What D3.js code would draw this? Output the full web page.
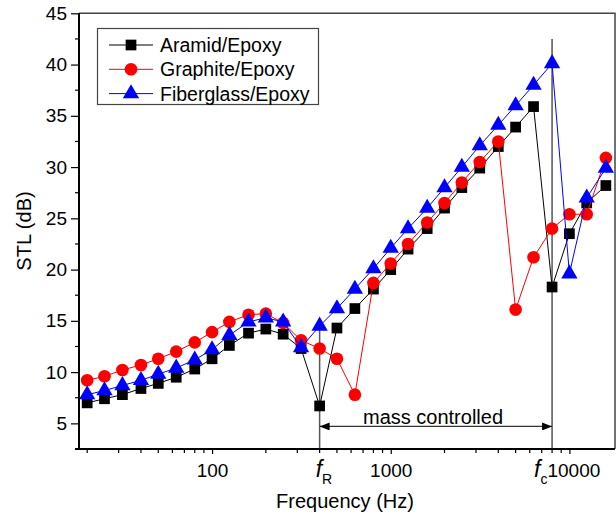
<!DOCTYPE html>
<html>
<head>
<meta charset="utf-8">
<script src="https://cdn.jsdelivr.net/npm/d3@7"></script>
<style>
  body { margin: 0; background: #fff; }
  svg { font-family: Arial, "Liberation Sans", sans-serif; }
</style>
</head>
<body>
<svg id="chart" width="616" height="519"></svg>
<script>
// 1/3 octave band centre frequencies (Hz)
var freqs = [20, 25, 31.5, 40, 50, 63, 80, 100, 125, 160, 200, 250, 315, 400, 500,
  630, 800, 1000, 1250, 1600, 2000, 2500, 3150, 4000, 5000, 6300, 8000, 10000, 12500, 16000];

var aramid = [7.0, 7.4, 7.8, 8.4, 8.9, 9.5, 10.3, 11.3, 12.6, 13.8, 14.2, 13.7, 12.3, 6.7, 14.3,
  16.2, 18.1, 20.0, 22.0, 24.0, 26.0, 28.0, 29.9, 32.0, 33.9, 35.9, 18.3, 23.5, 26.5, 28.2];
var graphite = [9.2, 9.6, 10.2, 10.7, 11.3, 12.0, 12.9, 13.9, 14.9, 15.6, 15.7, 14.8, 13.1, 12.3, 11.3,
  7.8, 18.7, 20.6, 22.5, 24.6, 26.5, 28.5, 30.5, 32.5, 16.1, 21.2, 24.0, 25.4, 25.4, 30.9];
var fiberglass = [7.8, 8.2, 8.7, 9.2, 9.8, 10.4, 11.2, 12.2, 13.6, 14.9, 15.3, 14.9, 12.4, 14.5, 16.2,
  18.1, 20.1, 22.1, 24.0, 26.0, 28.0, 30.0, 32.1, 34.1, 36.0, 38.0, 40.1, 19.6, 27.0, 29.9];

var seriesNames = ["Aramid/Epoxy", "Graphite/Epoxy", "Fiberglass/Epoxy"];
var yTicks = [5, 10, 15, 20, 25, 30, 35, 40, 45];
var xMajorTicks = [100, 1000, 10000];
var fR = 400, fC = 8000;

var svg = d3.select("#chart");
var plotLeft = 79, plotRight = 615, plotTop = 13.3, plotBottom = 449;

var x = d3.scaleLog().domain([18, 18000]).range([plotLeft, plotRight]);
var y = d3.scaleLinear().domain([2.5, 45]).range([plotBottom, plotTop]);

var series = [
  {name: seriesNames[0], values: aramid, color: "#000000", shape: d3.symbolSquare, size: 115},
  {name: seriesNames[1], values: graphite, color: "#ff0000", shape: d3.symbolCircle, size: 125},
  {name: seriesNames[2], values: fiberglass, color: "#0000ff", shape: d3.symbolTriangle, size: 115}
];

// frame (top / right)
svg.append("path")
  .attr("d", "M" + plotLeft + "," + plotTop + "H" + plotRight + "V" + plotBottom)
  .attr("fill", "none").attr("stroke", "#444").attr("stroke-width", 1.5);

// vertical markers at fR and fc
svg.append("line")
  .attr("x1", x(fR)).attr("x2", x(fR)).attr("y1", y(14.5)).attr("y2", plotBottom)
  .attr("stroke", "#555").attr("stroke-width", 1.5);
svg.append("line")
  .attr("x1", x(fC)).attr("x2", x(fC)).attr("y1", y(42.5)).attr("y2", plotBottom)
  .attr("stroke", "#555").attr("stroke-width", 1.5);

// curves
var line = d3.line()
  .x(function (d, i) { return x(freqs[i]); })
  .y(function (d) { return y(d); });

series.forEach(function (s) {
  svg.append("path")
    .datum(s.values)
    .attr("d", line)
    .attr("fill", "none")
    .attr("stroke", s.color)
    .attr("stroke-width", 1);
  svg.append("g").selectAll("path")
    .data(s.values)
    .join("path")
    .attr("transform", function (d, i) { return "translate(" + x(freqs[i]) + "," + y(d) + ")"; })
    .attr("d", d3.symbol().type(s.shape).size(s.size))
    .attr("fill", s.color);
});

// mass controlled arrow
var defs = svg.append("defs");
["start", "end"].forEach(function (k) {
  defs.append("marker")
    .attr("id", "arrow-" + k)
    .attr("viewBox", "0 0 10 8")
    .attr("refX", 10).attr("refY", 4)
    .attr("markerWidth", 11).attr("markerHeight", 8)
    .attr("markerUnits", "userSpaceOnUse")
    .attr("orient", k === "end" ? "auto" : "auto-start-reverse")
    .append("path")
    .attr("d", "M0,0L10,4L0,8Z")
    .attr("fill", "#000");
});
svg.append("line")
  .attr("x1", x(fR)).attr("x2", x(fC)).attr("y1", y(4.7)).attr("y2", y(4.7))
  .attr("stroke", "#333").attr("stroke-width", 1.2)
  .attr("marker-start", "url(#arrow-start)")
  .attr("marker-end", "url(#arrow-end)");
svg.append("text")
  .attr("x", 433).attr("y", 424)
  .attr("text-anchor", "middle")
  .attr("font-size", 20)
  .text("mass controlled");

// y axis
var yAxis = d3.axisLeft(y).tickValues(yTicks).tickSize(8).tickPadding(4);
var gy = svg.append("g").attr("transform", "translate(" + plotLeft + ",0)").call(yAxis);
gy.select(".domain").remove();
gy.selectAll("text").attr("font-size", 19).attr("fill", "#000");
gy.selectAll("line").attr("stroke", "#000").attr("stroke-width", 1.2);
var yMinor = d3.range(7.5, 45, 5);
svg.append("g").selectAll("line")
  .data(yMinor)
  .join("line")
  .attr("x1", plotLeft - 4).attr("x2", plotLeft)
  .attr("y1", function (d) { return y(d); }).attr("y2", function (d) { return y(d); })
  .attr("stroke", "#000").attr("stroke-width", 1.2);

// x axis
var xAxis = d3.axisBottom(x).tickValues(xMajorTicks).tickSize(5).tickPadding(10)
  .tickFormat(d3.format("d"));
var gx = svg.append("g").attr("transform", "translate(0," + plotBottom + ")").call(xAxis);
gx.select(".domain").remove();
gx.selectAll("text").attr("font-size", 19).attr("fill", "#000");
gx.selectAll(".tick").filter(function (d) { return d === 10000; })
  .select("text").attr("dx", 4);
gx.selectAll("line").attr("stroke", "#000").attr("stroke-width", 1.2);
var xMinor = x.ticks().filter(function (d) { return xMajorTicks.indexOf(d) < 0; });
svg.append("g").selectAll("line")
  .data(xMinor)
  .join("line")
  .attr("x1", function (d) { return x(d); }).attr("x2", function (d) { return x(d); })
  .attr("y1", plotBottom).attr("y2", plotBottom + 4)
  .attr("stroke", "#000").attr("stroke-width", 1.2);

// axis lines
svg.append("line").attr("x1", plotLeft).attr("x2", plotLeft).attr("y1", plotTop).attr("y2", plotBottom + 1)
  .attr("stroke", "#000").attr("stroke-width", 2);
svg.append("line").attr("x1", plotLeft - 4).attr("x2", plotRight).attr("y1", plotBottom).attr("y2", plotBottom)
  .attr("stroke", "#000").attr("stroke-width", 2);

// f_R and f_c labels
[[fR, "R", -4], [fC, "c", -18]].forEach(function (f) {
  var t = svg.append("text")
    .attr("x", x(f[0]) + f[2]).attr("y", 477);
  t.append("tspan").attr("font-size", 23).attr("font-style", "italic").text("f");
  t.append("tspan").attr("font-size", 14).attr("dy", 7).text(f[1]);
});

// axis titles
svg.append("text")
  .attr("x", 345).attr("y", 508)
  .attr("text-anchor", "middle")
  .attr("font-size", 20)
  .text("Frequency (Hz)");
svg.append("text")
  .attr("transform", "translate(31,231) rotate(-90)")
  .attr("text-anchor", "middle")
  .attr("font-size", 20)
  .text("STL (dB)");

// legend
var legend = svg.append("g");
legend.append("rect")
  .attr("x", 97.5).attr("y", 28.5).attr("width", 221).attr("height", 76)
  .attr("fill", "#fff").attr("stroke", "#444").attr("stroke-width", 1.2);
series.forEach(function (s, i) {
  var ly = 45 + i * 24.3;
  legend.append("line")
    .attr("x1", 109).attr("x2", 153).attr("y1", ly).attr("y2", ly)
    .attr("stroke", s.color).attr("stroke-width", 1);
  legend.append("path")
    .attr("transform", "translate(131," + ly + ")")
    .attr("d", d3.symbol().type(s.shape).size(s.size))
    .attr("fill", s.color);
  legend.append("text")
    .attr("x", 160).attr("y", ly + 7)
    .attr("font-size", 19.5)
    .text(s.name);
});
</script>
</body>
</html>
